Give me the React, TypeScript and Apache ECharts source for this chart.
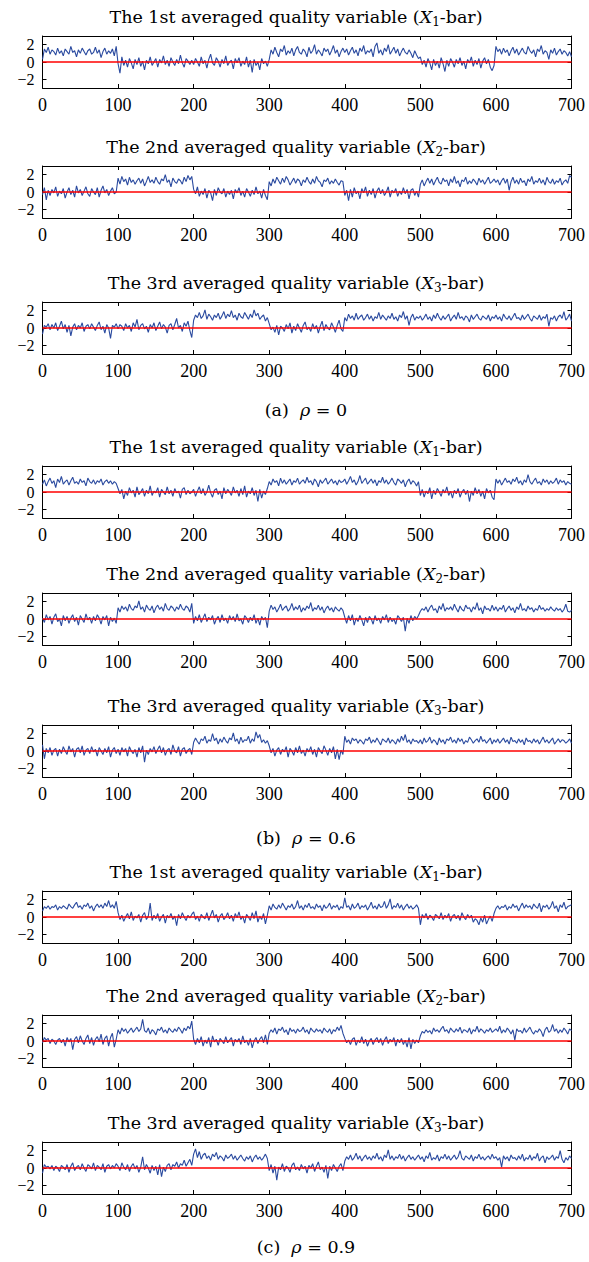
import { useEffect, useRef } from "react";
import * as echarts from "echarts";

const xTicks = [0, 100, 200, 300, 400, 500, 600, 700];
const yTicks = [-2, 0, 2];
const yOuterLabels = [-2, 2];
const yMiddleLabels = [0];

const varNames = ["1st", "2nd", "3rd"];
const subscripts = ["1", "2", "3"];
const captionLetters = ["(a)", "(b)", "(c)"];
const rhoValues = ["0", "0.6", "0.9"];

// rho = 0 (one value every 2.5 samples, 0..700)
const a1 = [
  0.3, 1.5, 1.1, 1.7, 0.9, 1.4, 1.2, 0.8, 1.6, 1.0, 1.3, 0.7, 1.5, 1.2, 0.9, 1.8, 1.1, 1.3, 0.6, 1.4,
  1.0, 1.6, 1.2, 0.8, 1.3, 1.5, 0.9, 1.1, 1.7, 1.0, 1.4, 0.5, 1.2, 1.6, 0.9, 1.3, 1.0, 1.5, 0.7, 1.8,
  -0.2, -1.3, 0.6, -0.4, 0.2, -0.6, 0.4, -0.1, -0.8, 0.3, -0.3, 0.5, -0.5, 0.1, -0.9, 0.2, -0.2, 0.6, -0.4, 0.0,
  0.4, -0.6, 0.3, -0.1, 0.7, -0.3, 0.2, -0.5, 0.5, 0.0, -0.4, 0.3, -0.2, 0.8, -0.1, -0.6, 0.4, 0.1, -0.3, 0.2,
  -0.3, 0.4, 0.0, -0.5, 0.6, -0.2, 0.2, -0.7, 0.3, 0.9, -0.1, -0.4, 0.5, 0.1, -0.6, 0.3, -0.2, 0.7, -0.4, 0.0,
  0.2, -0.8, 0.4, -0.1, 0.5, -0.5, 0.1, -0.3, 0.6, -0.6, 0.2, -1.2, 0.3, -0.4, 0.0, -0.9, 0.4, -0.2, 0.1, -0.5,
  0.3, 1.4, 0.9, 1.7, 1.1, 0.6, 1.5, 1.2, 1.9, 0.8, 1.3, 1.0, 1.6, 0.7, 1.4, 1.8, 1.1, 0.9, 1.5, 1.2,
  0.6, 1.7, 1.0, 1.3, 2.0, 0.9, 1.4, 1.1, 0.7, 1.6, 1.2, 1.5, 0.8, 1.3, 1.9, 1.0, 1.4, 0.6, 1.2, 1.6,
  1.1, 1.5, 0.8, 1.3, 1.7, 1.0, 1.4, 0.7, 1.6, 1.2, 1.9, 0.9, 1.3, 1.1, 1.5, 0.6, 1.8, 2.2, 1.0, 1.4,
  0.8, 1.6, 1.2, 2.0, 0.9, 1.3, 1.7, 1.0, 1.5, 0.7, 1.2, 1.6, 1.1, 0.9, 1.4, 1.0, 0.5, 1.3, 0.8, 0.4,
  0.6, -0.3, 0.2, -0.6, 0.4, -0.1, -0.9, 0.3, -0.4, 0.1, -0.7, 0.5, -0.2, -1.1, 0.2, -0.5, 0.4, 0.0, -0.6, 0.3,
  -0.2, 0.5, -0.4, 0.1, -0.8, 0.3, -0.1, 0.6, -0.5, 0.2, -0.3, 0.4, -0.7, 0.1, 0.5, -0.2, 0.3, -0.6, -1.0, -0.4,
  1.8, 1.2, 1.5, 0.9, 1.6, 1.1, 1.4, 0.7, 1.3, 1.7, 1.0, 1.5, 0.8, 1.2, 1.6, 1.1, 0.9, 1.8, 1.3, 1.0,
  1.4, 0.6, 1.5, 1.2, 1.9, 0.9, 1.3, 1.1, 0.3, 1.4, 1.0, 1.6, 0.8, 1.2, 1.5, 0.9, 1.3, 1.1, 0.7, 1.2,
  0.6];
const a2 = [
  -0.3, 0.5, -0.9, 0.2, -0.4, 0.3, -0.1, 0.6, -0.5, 0.1, -0.2, 0.4, -0.7, 0.0, 0.5, -0.3, 0.2, -0.6, 0.7, -0.1,
  0.3, -0.4, 0.1, 0.6, -0.2, -0.5, 0.4, 0.0, -0.3, 0.5, -0.6, 0.2, 0.7, -0.1, 0.3, -0.4, 0.1, 0.5, -0.2, 0.0,
  1.6, 0.9, 1.8, 1.2, 1.5, 0.8, 1.7, 1.1, 1.4, 0.9, 1.3, 1.6, 1.0, 1.5, 0.7, 1.2, 1.8, 1.1, 1.4, 1.0,
  1.7, 1.2, 0.9, 1.5, 1.3, 2.0, 1.1, 1.4, 0.6, 1.6, 1.2, 1.0, 1.5, 1.3, 0.9, 1.7, 1.2, 1.9, 1.4, 1.8,
  0.3, -0.2, 0.6, -0.5, 0.1, -0.3, 0.4, -0.7, 0.2, -0.1, -1.0, 0.3, -0.4, 0.5, 0.0, -0.2, 0.4, -0.6, 0.1, -0.3,
  0.2, -0.8, 0.3, -0.1, 0.5, -0.4, 0.1, -0.6, 0.4, 0.0, -0.5, 0.2, -0.3, 0.6, -0.2, 0.1, -0.7, 0.3, -0.4, -0.9,
  1.2, 0.7, 1.5, 1.0, 1.7, 1.3, 0.9, 1.6, 1.1, 1.8, 1.4, 0.8, 1.2, 1.6, 1.0, 1.5, 1.3, 0.7, 1.4, 1.1,
  1.7, 1.2, 0.9, 1.5, 1.0, 1.8, 1.3, 1.1, 0.6, 1.4, 1.2, 1.6, 0.9, 1.3, 1.0, 1.5, 1.1, 0.8, 1.3, 1.2,
  -0.4, 0.2, -1.0, 0.3, -0.6, 0.5, -0.2, 0.1, -0.8, 0.4, -0.1, 0.6, -0.5, 0.2, -0.3, 0.4, -0.7, 0.1, 0.5, -0.2,
  0.3, -0.4, 0.0, 0.6, -0.6, 0.2, -0.1, 0.4, -0.5, 0.1, -0.3, 0.5, -0.2, 0.3, -0.8, 0.2, 0.4, -0.4, 0.1, -0.6,
  0.9, 1.4, 0.7, 1.2, 1.6, 1.0, 1.5, 0.8, 1.3, 1.7, 1.1, 0.9, 1.6, 1.2, 1.4, 0.7, 1.5, 1.1, 1.8, 1.0,
  1.3, 0.6, 1.4, 1.2, 1.7, 0.9, 1.3, 1.0, 1.5, 1.2, 0.8, 1.6, 1.1, 1.4, 0.9, 1.3, 1.7, 1.0, 1.2, 1.5,
  1.1, 1.4, 0.8, 1.3, 1.6, 1.0, 1.5, 0.2, 1.2, 1.7, 1.0, 1.4, 0.9, 1.6, 1.1, 1.3, 0.7, 1.5, 1.2, 1.8,
  0.9, 1.3, 1.1, 1.6, 1.0, 1.4, 0.8, 1.7, 1.2, 1.0, 1.5, 0.9, 1.3, 1.1, 1.6, 0.8, 1.2, 1.4, 1.0, 1.9,
  1.7];
const a3 = [
  -0.7, 0.3, 0.1, 0.5, -0.2, 0.4, 0.0, 0.6, -0.3, 0.2, 0.8, -0.1, 0.4, -0.5, 0.3, -0.9, 0.1, 0.5, -0.2, 0.3,
  0.0, 0.6, -0.4, 0.2, 0.4, -0.1, 0.5, 0.1, -0.3, 0.3, 0.7, -0.2, 0.2, -0.6, 0.4, 0.0, -1.2, 0.3, 0.1, 0.5,
  -0.1, 0.4, 0.2, -0.3, 0.5, 0.0, 0.3, -0.4, 0.6, 0.1, 1.0, -0.2, 0.3, 0.5, -0.1, 0.2, -0.5, 0.4, 0.0, 0.6,
  -0.3, 0.2, 0.7, -0.1, 0.4, 0.1, -0.6, 0.3, 0.5, -0.2, 0.4, 1.1, 0.0, 0.3, -0.4, 0.6, 0.2, 0.8, -0.3, -1.1,
  0.9, 1.5, 1.2, 1.8, 1.1, 1.4, 2.1, 1.0, 1.6, 1.3, 0.9, 1.5, 1.2, 1.7, 1.0, 1.4, 1.9, 1.1, 1.6, 1.3,
  2.0, 1.2, 1.5, 0.9, 1.7, 1.3, 1.1, 1.8, 1.4, 1.0, 1.6, 1.2, 2.1, 1.4, 1.7, 1.0, 1.3, 1.5, 0.8, 1.2,
  0.5, -0.2, 0.1, -0.5, 0.3, -0.8, 0.2, 0.0, -0.4, 0.4, -0.1, 0.6, -0.6, 0.2, -0.3, 0.5, 0.0, -0.5, 0.3, 0.7,
  -0.2, 0.1, -0.4, 0.5, -0.1, 0.3, -0.6, 0.2, 0.8, -0.3, 0.4, 0.0, -0.2, 0.6, 0.1, -0.5, 0.3, 0.9, -0.1, -0.4,
  1.2, 0.8, 1.6, 1.1, 1.4, 0.9, 1.7, 1.0, 1.3, 1.5, 0.9, 1.2, 1.6, 1.0, 1.4, 0.8, 1.3, 1.1, 1.8, 1.0,
  1.5, 1.2, 0.9, 1.4, 1.1, 1.7, 1.0, 1.3, 0.8, 1.5, 1.2, 1.9, 1.0, 1.4, 0.3, 1.2, 1.6, 0.9, 1.3, 1.1,
  1.4, 0.9, 1.2, 1.6, 1.0, 1.3, 0.8, 1.5, 1.1, 1.7, 1.2, 0.9, 1.4, 1.0, 1.3, 1.6, 0.8, 1.2, 1.5, 1.0,
  1.8, 1.1, 1.3, 0.9, 1.4, 1.2, 0.7, 1.5, 1.0, 1.3, 1.6, 1.1, 0.9, 1.4, 1.2, 1.0, 1.5, 0.8, 1.3, 1.1,
  1.5, 1.0, 1.3, 0.8, 1.6, 1.2, 1.0, 1.4, 0.9, 1.3, 1.7, 1.1, 1.2, 0.9, 1.5, 1.0, 1.3, 1.6, 1.1, 0.8,
  1.4, 1.2, 1.0, 1.5, 0.9, 1.3, 1.1, 1.6, 0.2, 1.2, 1.0, 1.4, 0.8, 1.3, 1.5, 1.1, 1.9, 0.9, 1.2, 1.6,
  0.8];

// rho = 0.6
const b1 = [
  0.9, 1.4, 0.7, 1.2, 1.6, 1.0, 1.3, 0.5, 1.5, 1.1, 1.8, 0.9, 1.2, 1.4, 0.8, 1.3, 1.7, 1.0, 1.2, 0.9,
  1.5, 1.1, 1.3, 0.7, 1.6, 1.2, 1.0, 1.4, 0.9, 1.3, 1.1, 1.5, 0.8, 1.2, 1.4, 1.0, 1.3, 0.9, 1.2, 1.0,
  0.4, -0.2, 0.3, -0.8, 0.1, -0.4, 0.5, -0.1, 0.2, -0.6, 0.6, -0.3, 0.0, 0.4, -0.5, 0.2, -0.2, 0.7, -0.4, 0.1,
  -0.1, 0.5, -0.6, 0.3, 0.0, -0.3, 0.6, -0.2, 0.2, -0.5, 0.4, -0.1, 0.1, -0.7, 0.3, 0.5, -0.3, 0.2, -0.2, 0.0,
  0.3, -0.5, 0.1, 0.6, -0.2, 0.4, -0.4, 0.0, 0.8, -0.1, -0.6, 0.2, 0.4, -0.3, 0.1, -0.8, 0.5, -0.2, 0.3, 0.0,
  -0.4, 0.6, -0.1, 0.2, -0.5, 0.4, -0.3, 0.7, -0.6, 0.1, -0.2, 0.5, -0.4, 0.2, -1.1, 0.3, -0.7, 0.1, -0.3, 0.4,
  1.2, 0.8, 1.5, 1.1, 1.3, 0.7, 1.6, 1.0, 1.4, 0.9, 1.2, 1.5, 0.8, 1.3, 1.1, 1.6, 0.9, 1.2, 1.4, 1.0,
  1.7, 1.1, 1.3, 0.8, 1.5, 1.2, 0.6, 1.4, 1.0, 1.3, 1.6, 0.9, 1.2, 1.5, 1.0, 1.3, 0.8, 1.4, 1.1, 1.2,
  1.5, 0.9, 1.3, 1.8, 1.1, 1.4, 0.8, 1.2, 1.9, 1.0, 1.3, 1.6, 0.9, 1.2, 1.5, 1.0, 1.4, 0.7, 1.3, 1.1,
  1.7, 1.0, 1.4, 0.9, 1.2, 1.6, 1.1, 0.8, 1.5, 1.3, 1.0, 1.4, 0.6, 1.2, 1.5, 0.9, 1.3, 1.1, 0.7, 1.2,
  -0.4, 0.3, -0.6, 0.1, -0.2, 0.5, -0.8, 0.2, -0.3, 0.4, 0.0, -0.5, 0.3, -0.1, 0.6, -0.4, 0.1, -0.7, 0.2, -0.2,
  0.4, -0.6, 0.0, 0.3, -0.3, 0.2, -1.1, 0.1, -0.4, 0.5, -0.2, 0.3, -0.5, 0.1, -0.8, 0.4, -0.1, 0.2, -0.6, -0.9,
  1.5, 1.0, 1.4, 0.8, 1.2, 1.6, 1.1, 1.3, 0.9, 1.5, 1.2, 1.7, 1.0, 1.3, 0.8, 1.4, 1.1, 2.0, 1.2, 0.9,
  1.3, 1.6, 1.0, 1.2, 0.8, 1.5, 1.1, 1.4, 0.9, 1.3, 1.0, 1.2, 1.6, 0.9, 1.4, 1.1, 1.3, 0.8, 1.2, 1.0,
  0.9];
const b2 = [
  0.1, -0.4, 0.5, -0.1, 0.3, -0.6, 0.2, 0.6, -0.3, 0.0, -0.8, 0.4, -0.2, 0.3, -0.5, 0.1, 0.5, -0.3, 0.2, -0.7,
  0.4, 0.0, -0.4, 0.6, -0.1, 0.2, -0.5, 0.3, -0.2, 0.5, 0.1, -0.6, 0.3, -0.1, 0.4, -0.8, 0.2, -0.3, 0.1, -0.5,
  1.3, 0.8, 1.5, 1.1, 1.4, 0.9, 1.7, 1.2, 1.0, 1.5, 1.3, 2.1, 1.1, 1.4, 0.8, 1.6, 1.2, 1.0, 1.5, 0.7,
  1.3, 1.6, 1.1, 1.4, 0.9, 1.8, 1.2, 1.0, 1.5, 1.3, 0.9, 1.4, 1.1, 1.7, 1.2, 1.0, 1.5, 1.3, 0.8, 1.8,
  -0.5, 0.3, -0.2, 0.5, -0.4, 0.1, 0.6, -0.3, 0.2, -0.1, 0.4, -0.6, 0.0, 0.3, -0.4, 0.5, -0.2, 0.1, -0.5, 0.4,
  -0.1, 0.3, -0.3, 0.6, -0.2, 0.0, -0.6, 0.4, 0.1, -0.4, 0.2, -0.2, 0.5, -0.5, 0.1, -0.7, 0.3, -0.1, 0.2, -1.0,
  0.9, 1.6, 1.1, 1.4, 0.8, 1.2, 1.7, 1.0, 1.3, 1.5, 0.9, 1.2, 1.8, 1.0, 1.4, 1.1, 1.6, 0.8, 1.3, 1.0,
  1.5, 1.2, 1.9, 0.9, 1.3, 1.1, 1.6, 1.0, 1.4, 0.7, 1.2, 1.5, 1.0, 1.3, 0.8, 1.4, 1.1, 0.9, 1.3, 1.0,
  0.2, -0.5, 0.4, -0.2, 0.5, -0.7, 0.1, -0.3, 0.4, -0.1, -0.8, 0.2, -0.4, 0.3, 0.0, -0.6, 0.4, -0.2, 0.1, -0.5,
  0.3, -0.1, 0.5, -0.4, 0.2, -0.3, 0.0, -0.6, 0.4, 0.1, -0.3, 0.2, -1.4, 0.1, -0.5, 0.4, -0.2, 0.3, 0.0, 0.4,
  0.9, 1.2, 1.0, 1.4, 0.8, 1.3, 1.6, 1.0, 1.2, 0.7, 1.5, 1.1, 1.8, 0.9, 1.3, 1.1, 1.4, 1.0, 1.7, 1.2,
  0.8, 1.5, 1.1, 0.9, 1.6, 1.2, 1.3, 0.8, 1.4, 1.1, 1.9, 1.0, 1.3, 0.6, 1.5, 1.1, 1.2, 0.9, 1.6, 1.0,
  1.4, 0.9, 1.3, 1.1, 1.6, 0.8, 1.2, 1.5, 1.0, 1.3, 0.7, 1.4, 1.1, 1.8, 1.0, 1.2, 0.9, 1.5, 1.1, 1.3,
  0.8, 1.2, 1.0, 1.6, 1.1, 1.3, 0.9, 1.2, 1.0, 1.4, 1.1, 0.9, 1.3, 1.0, 1.2, 0.8, 1.1, 1.7, 0.9, 0.8,
  1.0];
const b3 = [
  0.7, -0.9, 0.3, -0.2, 0.4, -0.5, 0.1, 0.3, -0.6, 0.2, -0.3, 0.5, 0.0, -0.4, 0.6, -0.1, 0.3, -0.7, 0.2, 0.4,
  -0.2, 0.6, -0.5, 0.1, 0.3, -0.3, 0.5, -0.1, 0.2, -0.6, 0.4, 0.0, -0.4, 0.3, -0.2, 0.5, -0.7, 0.1, 0.4, -0.3,
  0.2, -0.5, 0.4, -0.1, 0.3, -0.6, 0.5, 0.0, -0.3, 0.2, -0.7, 0.4, -0.2, 0.6, -1.3, 0.1, -0.4, 0.3, -0.1, 0.5,
  -0.3, 0.2, 0.6, -0.2, 0.4, -0.5, 0.1, 0.3, -0.4, 0.7, 0.0, -0.2, 0.5, -0.6, 0.2, 0.4, -0.3, 0.1, 0.3, -0.4,
  1.0, 1.5, 1.1, 0.8, 1.4, 1.2, 1.7, 0.9, 1.3, 1.1, 2.0, 1.2, 1.5, 0.8, 1.4, 1.0, 1.6, 1.2, 0.9, 1.5,
  1.3, 2.1, 1.1, 1.4, 0.8, 1.6, 1.0, 1.3, 1.2, 1.7, 0.9, 1.4, 1.1, 2.2, 1.5, 1.9, 1.0, 1.3, 0.9, 1.2,
  0.6, -0.2, 0.3, -0.6, 0.1, 0.4, -0.4, 0.2, -0.1, 0.5, -0.7, 0.3, 0.0, -0.5, 0.4, -0.2, 0.6, -0.3, 0.1, -0.6,
  0.3, -0.1, 0.5, -0.4, 0.2, -0.7, 0.4, 0.0, -0.3, 0.6, 0.1, -0.5, 0.3, -0.2, 0.5, -0.9, 0.2, -1.0, 0.1, -0.4,
  1.7, 1.0, 1.3, 0.8, 1.5, 1.2, 1.4, 0.9, 1.3, 1.1, 0.8, 1.4, 1.2, 1.6, 0.9, 1.3, 1.0, 1.5, 1.1, 0.7,
  1.4, 1.2, 1.0, 1.5, 0.9, 1.3, 1.1, 0.8, 1.4, 1.0, 1.7, 1.2, 1.9, 1.0, 1.3, 0.8, 1.4, 1.1, 1.2, 0.9,
  1.3, 0.8, 1.5, 1.0, 1.2, 1.6, 0.9, 1.3, 1.1, 0.7, 1.5, 1.0, 1.3, 0.8, 1.4, 1.2, 1.6, 1.0, 1.3, 0.9,
  1.5, 1.1, 1.4, 0.8, 1.2, 1.0, 1.6, 1.3, 0.9, 1.2, 1.4, 1.0, 1.7, 1.1, 1.3, 0.9, 1.2, 1.5, 0.8, 1.3,
  1.0, 1.4, 0.9, 1.2, 1.5, 1.0, 1.3, 0.8, 1.6, 1.1, 1.2, 0.9, 1.4, 1.0, 1.3, 0.7, 1.5, 1.1, 1.2, 0.9,
  1.4, 1.0, 1.3, 0.8, 1.2, 1.6, 1.0, 1.3, 0.9, 1.2, 1.5, 0.8, 1.1, 1.4, 1.0, 1.3, 1.2, 0.9, 1.1, 1.4,
  0.9];

// rho = 0.9
const c1 = [
  0.7, 1.2, 1.0, 1.3, 0.9, 1.2, 1.1, 1.4, 0.8, 1.2, 1.0, 1.3, 1.1, 0.9, 1.5, 1.2, 1.0, 1.4, 1.7, 1.1,
  1.3, 0.9, 1.4, 1.2, 1.6, 1.0, 1.3, 0.7, 1.2, 1.5, 1.1, 1.4, 1.0, 1.6, 1.2, 1.9, 1.1, 1.4, 1.0, 1.8,
  0.5, -0.3, 0.2, -0.5, 0.0, 0.4, -0.2, 0.6, -0.4, 0.1, -0.1, 0.3, -0.6, 0.2, 0.5, -0.3, 0.1, 1.6, -0.4, 0.2,
  -0.2, 0.4, -0.5, 0.0, 0.3, -0.7, 0.2, -0.1, 0.4, -0.3, 0.1, -1.0, 0.3, -0.2, 0.5, 0.0, -0.4, 0.2, -0.1, 0.3,
  0.6, -0.3, 0.1, -0.5, 0.3, 0.0, -0.2, 0.5, -0.4, 0.2, 0.8, -0.1, 0.3, -0.6, 0.1, 0.4, -0.3, 0.0, 0.5, -0.2,
  0.2, -0.5, 0.4, -0.1, 0.6, -0.3, 0.1, -0.7, 0.3, 0.0, -0.4, 0.5, -0.2, 0.7, -0.6, 0.1, -0.3, 0.4, -0.8, 0.2,
  1.3, 0.8, 1.5, 1.1, 0.9, 1.4, 1.0, 1.6, 1.2, 0.8, 1.3, 1.1, 1.5, 0.9, 1.2, 1.9, 1.0, 1.3, 0.8, 1.4,
  1.1, 1.6, 1.0, 1.2, 0.9, 1.5, 1.1, 1.3, 0.7, 1.4, 1.0, 1.2, 1.6, 0.9, 1.3, 1.1, 1.4, 0.8, 1.2, 1.0,
  2.2, 1.1, 1.3, 0.8, 1.5, 1.0, 1.2, 1.6, 0.9, 1.3, 1.1, 1.4, 0.8, 1.2, 1.7, 1.0, 1.3, 0.9, 1.5, 1.1,
  1.2, 1.8, 1.0, 1.4, 2.1, 0.9, 1.3, 1.1, 1.6, 1.0, 1.4, 0.8, 1.2, 1.5, 1.0, 1.3, 0.9, 1.1, 1.4, 1.0,
  -0.9, 0.3, -0.1, 0.4, -0.3, 0.2, 0.0, -0.4, 0.3, 0.1, -0.2, 0.5, -0.3, 0.2, -0.1, 0.4, -0.5, 0.1, 0.3, -0.2,
  0.2, -0.4, 0.5, 0.0, -0.3, 0.3, -0.1, 0.2, -0.6, -0.2, -0.4, -0.9, -0.1, -0.6, 0.2, -0.8, -0.3, 0.1, -0.5, 0.4,
  1.0, 1.3, 0.9, 1.2, 1.1, 1.4, 0.8, 1.2, 1.0, 1.5, 1.1, 1.3, 0.7, 1.2, 1.6, 1.0, 1.4, 1.1, 1.3, 0.9,
  1.5, 1.2, 1.0, 1.6, 0.6, 1.3, 1.1, 1.4, 0.9, 1.2, 1.8, 1.0, 1.3, 0.6, 1.4, 1.1, 1.7, 0.9, 1.2, 1.3,
  1.4];
const c2 = [
  -0.2, 0.4, 0.1, 0.3, -0.3, 0.2, 0.0, -0.4, 0.1, 0.3, -0.2, 0.2, -0.6, 0.4, -0.1, 0.3, -1.0, 0.2, 0.5, -0.2,
  0.6, 0.0, -0.4, 0.3, 0.7, -0.3, 0.4, -0.5, 0.2, 0.5, -0.1, 0.8, -0.4, 0.3, 0.6, -0.6, 0.4, 0.9, -0.7, 0.2,
  1.3, 0.8, 1.5, 1.1, 1.4, 0.9, 1.2, 1.5, 1.0, 1.3, 1.6, 1.1, 1.4, 2.5, 1.2, 1.0, 1.5, 0.8, 1.3, 1.1,
  0.7, 1.4, 1.2, 1.6, 1.0, 1.3, 0.9, 1.5, 1.2, 1.0, 1.4, 1.1, 1.6, 1.3, 0.9, 1.5, 1.2, 1.7, 1.4, 2.3,
  0.2, -0.4, 0.3, -0.2, 0.5, -0.6, 0.1, -0.3, 0.4, -0.7, 0.6, -0.1, 0.2, -0.5, 0.3, 0.0, -0.3, 0.5, -0.2, 0.1,
  0.4, -0.6, 0.2, -0.1, 0.3, -0.4, 0.6, -0.2, 0.1, -0.5, 0.3, -0.8, 0.0, 0.4, -0.3, 0.2, 0.5, -0.2, 0.7, -0.4,
  0.9, 1.3, 1.0, 1.5, 0.8, 1.4, 1.2, 1.6, 1.0, 1.3, 0.7, 1.5, 1.1, 1.3, 0.9, 1.4, 1.1, 1.2, 1.6, 1.0,
  1.3, 0.8, 1.5, 1.2, 1.0, 1.4, 1.1, 1.3, 0.9, 1.5, 1.2, 1.0, 1.4, 0.8, 1.3, 1.1, 1.6, 1.2, 1.8, 0.9,
  0.3, -0.2, 0.1, -0.4, 0.2, 0.4, -0.5, 0.1, -0.2, 0.5, -0.3, 0.2, -0.6, 0.0, 0.3, -0.4, 0.1, 0.4, -0.2, 0.3,
  -0.5, 0.1, 0.5, -0.3, 0.2, -0.1, 0.4, -0.6, 0.2, -0.2, 0.3, -0.4, 0.1, -0.7, 0.4, -0.9, 0.2, -0.3, 0.1, -0.2,
  0.6, 1.1, 0.9, 1.3, 1.0, 1.2, 0.8, 1.5, 1.1, 1.3, 1.0, 1.4, 1.7, 1.1, 1.3, 0.9, 1.5, 1.2, 1.0, 1.4,
  1.1, 1.6, 0.9, 1.3, 1.2, 1.0, 1.5, 0.8, 1.3, 1.1, 1.7, 1.0, 1.4, 1.2, 0.9, 1.3, 1.1, 1.5, 1.0, 1.2,
  1.4, 1.1, 1.7, 0.9, 1.3, 1.0, 1.5, 1.2, 0.8, 1.3, 0.1, 1.4, 1.1, 1.2, 0.9, 1.5, 1.0, 1.3, 1.6, 1.1,
  0.8, 1.2, 1.0, 1.4, 1.1, 0.5, 1.3, 1.6, 1.0, 1.2, 1.9, 1.1, 1.4, 0.9, 1.3, 1.0, 1.5, 1.2, 0.8, 1.4,
  1.2];
const c3 = [
  -0.6, 0.4, 0.1, 0.2, -0.1, 0.3, -0.3, 0.2, 0.0, -0.4, 0.3, 0.1, -0.2, 0.4, -0.5, 0.2, 0.6, -0.3, 0.1, 0.3,
  -0.2, 0.5, 0.0, -0.4, 0.4, 0.2, -0.1, 0.6, -0.3, 0.3, 0.1, -0.2, 0.5, -0.5, 0.2, 0.4, -0.1, 0.3, 0.0, 0.5,
  0.2, -0.3, 0.6, 0.1, -0.2, 0.4, -0.4, 0.2, 0.5, -0.1, 0.3, -0.5, 0.1, 1.3, -0.2, 0.4, 0.0, -0.6, 0.3, -0.3,
  0.2, -0.8, 0.4, -1.0, 0.1, -0.4, 0.3, 0.5, -0.2, 0.4, 0.2, 0.7, 0.0, 0.5, 0.3, 0.9, 0.2, 0.6, 1.0, 0.3,
  1.6, 2.2, 1.2, 1.9, 1.0, 1.5, 1.7, 1.1, 1.4, 0.9, 1.6, 1.3, 1.8, 1.0, 1.4, 1.2, 0.8, 1.5, 1.1, 1.3,
  1.6, 1.0, 1.4, 0.9, 1.2, 1.5, 1.1, 0.8, 1.3, 1.0, 1.4, 0.7, 1.2, 1.5, 1.0, 1.3, 0.9, 1.2, 1.6, 1.1,
  -0.3, 0.4, -0.6, 0.2, -1.4, 0.1, -0.2, 0.5, -0.4, 0.2, 0.0, -0.5, 0.3, 0.6, -0.2, 0.1, -0.3, 0.4, -0.1, 0.2,
  -0.6, 0.3, 0.0, 0.5, -0.4, 0.2, 0.7, -0.2, 0.1, -0.5, 0.3, -1.2, 0.2, -0.3, 0.4, 0.0, -0.4, 0.2, 0.5, -0.3,
  0.8, 1.3, 1.0, 1.5, 0.9, 1.2, 1.7, 1.0, 1.4, 0.8, 1.2, 1.5, 1.0, 1.3, 0.9, 1.4, 1.1, 1.7, 1.0, 1.3,
  0.8, 1.5, 1.2, 2.1, 1.0, 1.4, 0.9, 1.3, 1.1, 1.6, 1.0, 1.4, 0.8, 1.2, 1.5, 1.0, 1.3, 0.9, 1.2, 1.5,
  1.0, 1.3, 0.7, 1.4, 1.1, 1.8, 0.9, 1.2, 1.0, 1.5, 0.8, 1.3, 1.1, 1.6, 1.0, 1.4, 0.9, 1.2, 1.5, 1.0,
  1.3, 2.0, 1.1, 0.9, 1.4, 1.2, 1.0, 1.5, 0.8, 1.3, 1.1, 1.6, 1.0, 1.3, 0.9, 1.2, 1.4, 1.0, 1.6, 1.1,
  1.3, 0.9, 1.2, 0.1, 1.4, 1.0, 1.3, 0.8, 1.5, 1.1, 1.2, 0.9, 1.4, 1.0, 1.6, 0.8, 1.2, 1.0, 1.5, 0.9,
  1.3, 1.1, 1.7, 0.8, 1.2, 1.4, 0.6, 1.3, 1.0, 1.2, 1.5, 0.9, 1.3, 1.1, 2.0, 1.0, 0.6, 1.2, 0.9, 1.4,
  1.1];

const panelSeries = [a1, a2, a3, b1, b2, b3, c1, c2, c3];

const NUM_FONT = "'Liberation Serif', 'Times New Roman', serif";
const TITLE_FONT = "'DejaVu Serif', 'Liberation Serif', serif";
const BLUE = "#2a4a9f";
const RED = "#ff0000";

export default function App() {
  const ref = useRef<HTMLDivElement>(null);

  useEffect(() => {
    if (!ref.current) return;
    const chart = echarts.init(ref.current, null, { renderer: "svg" });

    const boxTops = [36, 166, 302, 466, 593, 725, 891, 1015, 1142];
    const boxH = 52;
    const left = 42.5;
    const right = 17.5;
    const titleX = 296;
    const captionX = 306;
    const captionYs = [410, 838, 1247];

    const grids: any[] = [];
    const xAxes: any[] = [];
    const yAxes: any[] = [];
    const series: any[] = [];
    const graphics: any[] = [];

    const tickStyle = { color: "#000", width: 1 };
    const lineStyle = { color: "#000", width: 1 };
    const labelStyle = { fontFamily: NUM_FONT, fontSize: 18, color: "#000" };
    const yLabelStyle = { fontFamily: NUM_FONT, fontSize: 16, color: "#000", lineHeight: 16 };
    const minusFormatter = (v: number) => String(v).replace("-", "\u2212");

    panelSeries.forEach((vals, k) => {
      grids.push({ left, right, top: boxTops[k], height: boxH, containLabel: false });
      const common = {
        gridIndex: k,
        type: "value",
        min: 0,
        max: 700,
        interval: 100,
        splitLine: { show: false },
        axisLine: { show: true, onZero: false, lineStyle },
        axisTick: { show: true, inside: true, length: 4, lineStyle: tickStyle },
      };
      xAxes.push({
        ...common,
        position: "bottom",
        axisLabel: { ...labelStyle, margin: 8, showMinLabel: true, showMaxLabel: true, hideOverlap: false },
      });
      xAxes.push({ ...common, position: "top", axisLabel: { show: false } });

      const ycommon = {
        gridIndex: k,
        type: "value",
        min: -3,
        max: 3,
        splitLine: { show: false },
      };
      // left axis: box line, ticks, outer labels
      yAxes.push({
        ...ycommon,
        position: "left",
        axisLine: { show: true, onZero: false, lineStyle },
        axisTick: { show: true, inside: true, length: 4, lineStyle: tickStyle, customValues: yTicks },
        axisLabel: {
          ...yLabelStyle,
          margin: 8,
          hideOverlap: false,
          showMinLabel: true,
          showMaxLabel: true,
          customValues: yOuterLabels,
          formatter: minusFormatter,
        },
      });
      // left axis: middle label only
      yAxes.push({
        ...ycommon,
        position: "left",
        axisLine: { show: false },
        axisTick: { show: false },
        axisLabel: {
          ...yLabelStyle,
          margin: 8,
          hideOverlap: false,
          showMinLabel: true,
          showMaxLabel: true,
          customValues: yMiddleLabels,
          formatter: minusFormatter,
        },
      });
      // right axis: box line and ticks
      yAxes.push({
        ...ycommon,
        position: "right",
        axisLine: { show: true, onZero: false, lineStyle },
        axisTick: { show: true, inside: true, length: 4, lineStyle: tickStyle, customValues: yTicks },
        axisLabel: { show: false },
      });

      series.push({
        type: "line",
        xAxisIndex: 2 * k,
        yAxisIndex: 3 * k,
        data: vals.map((v, i) => [(i * 700) / (vals.length - 1), v]),
        showSymbol: false,
        symbol: "none",
        lineStyle: { color: BLUE, width: 1.1 },
        z: 2,
      });
      series.push({
        type: "line",
        xAxisIndex: 2 * k,
        yAxisIndex: 3 * k,
        data: [
          [xTicks[0], 0],
          [xTicks[xTicks.length - 1], 0],
        ],
        showSymbol: false,
        symbol: "none",
        lineStyle: { color: RED, width: 1.3 },
        z: 3,
      });

      const g = Math.floor(k / 3);
      const v = k % 3;
      graphics.push({
        type: "text",
        x: titleX,
        y: boxTops[k] - 19,
        style: {
          text: `{n|The ${varNames[v]} averaged quality variable (}{i|X}{s|${subscripts[v]}}{n|-bar)}`,
          align: "center",
          verticalAlign: "middle",
          fill: "#000",
          rich: {
            n: { fontFamily: TITLE_FONT, fontSize: 17.5, fill: "#000", lineHeight: 22 },
            i: { fontFamily: TITLE_FONT, fontSize: 17.5, fontStyle: "italic", fill: "#000", lineHeight: 22 },
            s: { fontFamily: TITLE_FONT, fontSize: 12, fill: "#000", lineHeight: 14, verticalAlign: "bottom" },
          },
        },
      });
      if (v === 2) {
        graphics.push({
          type: "text",
          x: captionX,
          y: captionYs[g],
          style: {
            text: `{n|${captionLetters[g]}  }{i|\u03c1}{n| = ${rhoValues[g]}}`,
            align: "center",
            verticalAlign: "middle",
            fill: "#000",
            rich: {
              n: { fontFamily: TITLE_FONT, fontSize: 17.5, fill: "#000" },
              i: { fontFamily: TITLE_FONT, fontSize: 17.5, fontStyle: "italic", fill: "#000" },
            },
          },
        });
      }
    });

    chart.setOption({
      animation: false,
      backgroundColor: "#fff",
      grid: grids,
      xAxis: xAxes,
      yAxis: yAxes,
      series,
      graphic: graphics,
    });

    return () => chart.dispose();
  }, []);

  return (
    <div
      ref={ref}
      style={{ position: "absolute", left: 0, top: 0, width: 589, height: 1262, background: "#fff" }}
    />
  );
}
